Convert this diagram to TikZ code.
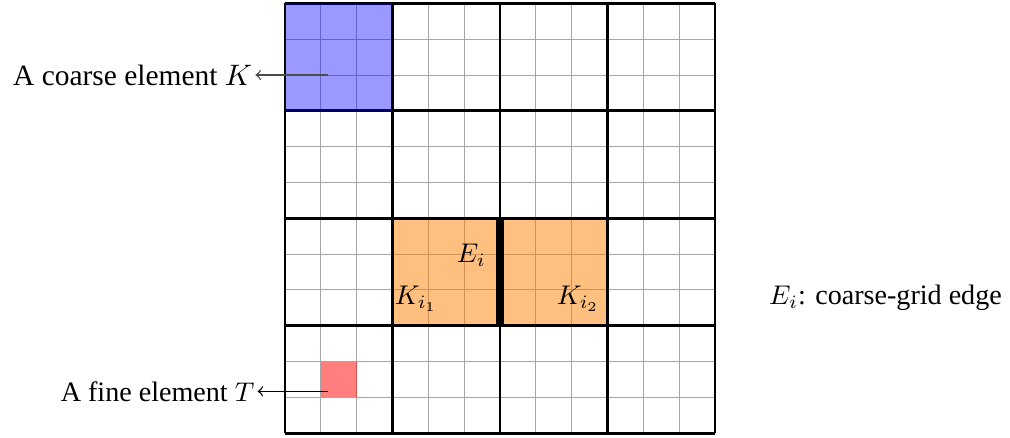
\documentclass[tikz,border=0pt]{standalone}
\usepackage{fontspec}
\setmainfont{Liberation Serif}
\begin{document}
\begin{tikzpicture}[x=13.26pt,y=13.26pt,
  fineline/.style={gray!70,line width=0.35pt},
  coarseline/.style={black,line width=1pt},
  lbl/.style={font=\fontsize{10.4}{12}\selectfont,inner sep=0pt},
  pointer/.style={->,line width=0.5pt}]
\useasboundingbox (-7.954,-0.131) rectangle (20.235,12.093);
% fine grid
\draw[fineline] (0,0) grid[step=1] (12,12);
% orange fill under coarse lines
\fill[orange,opacity=0.5] (3,3) rectangle (9,6);
% coarse grid
\draw[coarseline] (0,0) grid[step=3] (12,12);
% fills over coarse lines
\fill[blue,opacity=0.4] (0,9) rectangle (3,12);
\fill[red,opacity=0.5] (1,1) rectangle (2,2);
% edge
\coordinate (ea) at (6,3);
\coordinate (eb) at (6,6);
\draw[line width=2.7pt] (ea) -- (eb);
% labels in grid
\node[lbl] (Ei) at (5.2,4.98) {$E_i$};
\node[lbl] (Ki1) at (3.66,3.75) {$K_{i_1}$};
\node[lbl] (Ki2) at (8.18,3.75) {$K_{i_2}$};
\node[lbl,anchor=west] (leg) at (13.5,3.78) {$E_i$: coarse-grid edge};
% pointers
\coordinate (pK) at (1.2,10);
\coordinate (pT) at (1.2,1.17);
\node[lbl,font=\fontsize{10.9}{12}\selectfont,anchor=east] (tK) at (-0.9,10) {A coarse element $K$};
\node[lbl,anchor=east] (tT) at (-0.84,1.17) {A fine element $T$};
\draw[pointer,black!70] (pK) -- ([xshift=1pt]tK.east);
\draw[pointer] (pT) -- ([xshift=1pt]tT.east);
\end{tikzpicture}
\end{document}
